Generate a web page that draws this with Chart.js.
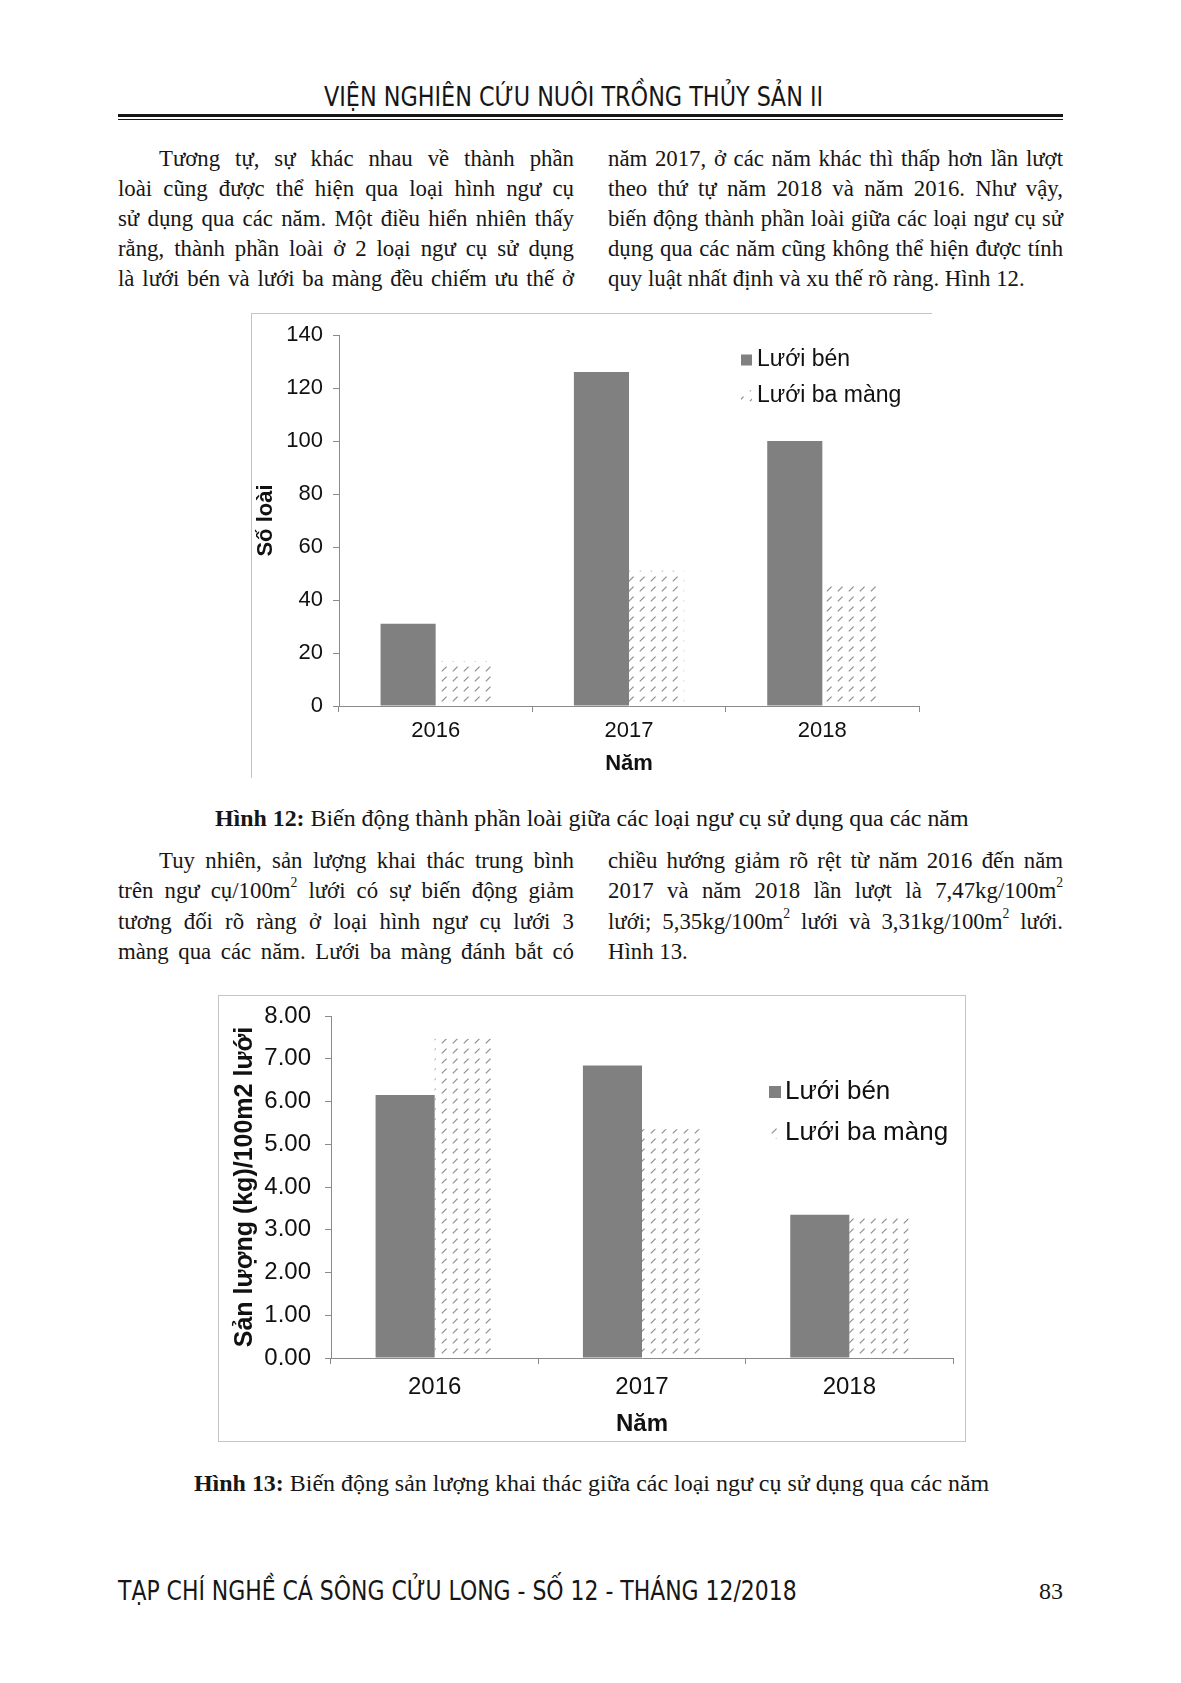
<!DOCTYPE html>
<html><head><meta charset="utf-8">
<script src="https://cdn.jsdelivr.net/npm/chart.js@4.4.0/dist/chart.umd.min.js"></script>
<style>
html,body{margin:0;padding:0;background:#fff;}
body{width:1181px;height:1683px;position:relative;overflow:hidden;color:#161616;}
.ln{position:absolute;height:30px;line-height:30px;font-family:"Liberation Serif","Times New Roman",serif;font-size:24px;transform-origin:0 50%;}
.j{text-align:justify;text-align-last:justify;}
.nj{white-space:nowrap;text-align:left;}
.meas{position:absolute;visibility:hidden;white-space:nowrap;font-family:"Liberation Serif","Times New Roman",serif;font-size:24px;left:0;top:0;}
sup{font-size:0.6em;line-height:0;vertical-align:0.75em;}
.fit{position:absolute;white-space:nowrap;display:inline-block;transform-origin:0 50%;}
.hdr{font-family:"Liberation Sans Narrow","DejaVu Sans Condensed","Liberation Sans",sans-serif;font-size:27px;line-height:30px;}
.cap{font-family:"Liberation Serif","Times New Roman",serif;font-size:24px;line-height:30px;}
.frame{position:absolute;box-sizing:border-box;}
.frame canvas{position:absolute;left:0;top:0;}
</style>
</head><body>

<div class="fit hdr" data-w="499" style="left:324px;top:82px;">VIỆN NGHIÊN CỨU NUÔI TRỒNG THỦY SẢN II</div>
<div style="position:absolute;left:118px;top:114px;width:945px;height:3px;background:#161616;"></div>
<div style="position:absolute;left:118px;top:119px;width:945px;height:1px;background:#161616;"></div>

<div id="text"></div>

<div class="frame" style="left:251px;top:313px;width:681px;height:465px;border-top:1px solid #c4c4c4;border-left:1px solid #c4c4c4;">
  <canvas id="c1" width="680" height="464"></canvas>
</div>

<div class="fit cap" data-w="754" style="left:215px;top:803px;"><b>Hình 12:</b> Biến động thành phần loài giữa các loại ngư cụ sử dụng qua các năm</div>

<div class="frame" style="left:218px;top:995px;width:748px;height:447px;border:1px solid #c4c4c4;">
  <canvas id="c2" width="746" height="445"></canvas>
</div>

<div class="fit cap" data-w="795" style="left:194px;top:1468px;"><b>Hình 13:</b> Biến động sản lượng khai thác giữa các loại ngư cụ sử dụng qua các năm</div>

<div class="fit hdr" data-w="679" style="left:118px;top:1576px;">TẠP CHÍ NGHỀ CÁ SÔNG CỬU LONG - SỐ 12 - THÁNG 12/2018</div>
<div class="fit cap" data-w="24" style="left:1039px;top:1576px;">83</div>

<script>
// ---------- chart data ----------
const years = ['2016', '2017', '2018'];
const seriesNames = ['Lưới bén', 'Lưới ba màng'];
const speciesBen = [31, 126, 100];
const speciesBaMang = [17, 51, 46];
const speciesAxis = [0, 140, 20];      // min, max, step
const yieldBen = [6.15, 6.84, 3.35];
const yieldBaMang = [7.47, 5.35, 3.31];
const yieldAxis = [0, 8, 1];           // min, max, step
const titleSpecies = 'Số loài';
const titleYield = 'Sản lượng (kg)/100m2 lưới';
const titleYear = 'Năm';

// ---------- body text ----------
const paragraphs = [
  {x:118, w:456, top:143, step:30.05, indent:41, justifyLast:true, lines:[
    'Tương tự, sự khác nhau về thành phần',
    'loài cũng được thể hiện qua loại hình ngư cụ',
    'sử dụng qua các năm. Một điều hiển nhiên thấy',
    'rằng, thành phần loài ở 2 loại ngư cụ sử dụng',
    'là lưới bén và lưới ba màng đều chiếm ưu thế ở']},
  {x:608, w:455, top:143, step:30.05, indent:0, justifyLast:false, lines:[
    'năm 2017, ở các năm khác thì thấp hơn lần lượt',
    'theo thứ tự năm 2018 và năm 2016. Như vậy,',
    'biến động thành phần loài giữa các loại ngư cụ sử',
    'dụng qua các năm cũng không thể hiện được tính',
    'quy luật nhất định và xu thế rõ ràng. Hình 12.']},
  {x:118, w:456, top:845, step:30.3, indent:41, justifyLast:true, lines:[
    'Tuy nhiên, sản lượng khai thác trung bình',
    'trên ngư cụ/100m<sup>2</sup> lưới có sự biến động giảm',
    'tương đối rõ ràng ở loại hình ngư cụ lưới 3',
    'màng qua các năm. Lưới ba màng đánh bắt có']},
  {x:608, w:455, top:845, step:30.3, indent:0, justifyLast:false, lines:[
    'chiều hướng giảm rõ rệt từ năm 2016 đến năm',
    '2017 và năm 2018 lần lượt là 7,47kg/100m<sup>2</sup>',
    'lưới; 5,35kg/100m<sup>2</sup> lưới và 3,31kg/100m<sup>2</sup> lưới.',
    'Hình 13.']}
];
const SX = 0.95;
const host = document.getElementById('text');
const meas = document.createElement('span');
meas.className = 'meas';
document.body.appendChild(meas);
paragraphs.forEach(p => {
  p.lines.forEach((t, i) => {
    const d = document.createElement('div');
    const last = i === p.lines.length - 1;
    const ind = i === 0 ? p.indent : 0;
    const W = p.w - ind;
    meas.innerHTML = t;
    const nat = meas.getBoundingClientRect().width;
    let sx = SX;
    if (nat * sx > W - 8) sx = (W - 8) / nat;
    d.className = 'ln ' + (last && !p.justifyLast ? 'nj' : 'j');
    d.style.left = (p.x + ind) + 'px';
    d.style.top = (p.top + i * p.step) + 'px';
    d.style.width = (W / sx) + 'px';
    d.style.transform = 'scaleX(' + sx + ')';
    d.innerHTML = t;
    host.appendChild(d);
  });
});
meas.remove();
document.querySelectorAll('.fit').forEach(el => {
  const w = parseFloat(el.dataset.w);
  el.style.transform = 'scaleX(' + (w / el.offsetWidth) + ')';
});

// ---------- charts ----------
const BAR = '#808080';
function makePattern() {
  const c = document.createElement('canvas');
  c.width = 11; c.height = 10;
  const g = c.getContext('2d');
  g.fillStyle = '#fff'; g.fillRect(0, 0, 11, 10);
  g.strokeStyle = '#8f8f8f'; g.lineWidth = 1.25;
  g.beginPath(); g.moveTo(2.8, 7.4); g.lineTo(7.6, 2.6); g.stroke();
  return g.createPattern(c, 'repeat');
}
const PAT = makePattern();

const boxLegend = {
  id: 'boxLegend',
  afterDraw(chart, args, o) {
    const ctx = chart.ctx;
    ctx.save();
    chart.data.datasets.forEach((ds, i) => {
      const y = o.y + i * o.gap;
      ctx.fillStyle = ds.backgroundColor;
      ctx.fillRect(o.x, y - o.box / 2, o.box, o.box);
      ctx.fillStyle = '#111';
      ctx.font = o.font;
      ctx.textBaseline = 'middle';
      ctx.textAlign = 'left';
      ctx.fillText(ds.label, o.x + o.box + o.space, y);
    });
    ctx.restore();
  }
};

function build(id, a, b, axis, yTitle, cfg) {
  const font = 'Liberation Sans, Arial, sans-serif';
  return new Chart(document.getElementById(id), {
    type: 'bar',
    data: {
      labels: years,
      datasets: [
        {label: seriesNames[0], data: a, backgroundColor: BAR, borderWidth: 0},
        {label: seriesNames[1], data: b, backgroundColor: PAT, borderWidth: 0}
      ]
    },
    options: {
      responsive: false, animation: false,
      layout: {padding: {top: cfg.padTop, right: cfg.padRight, left: 0, bottom: 0}},
      datasets: {bar: {categoryPercentage: 0.57, barPercentage: 1.0}},
      plugins: {
        legend: {display: false}, tooltip: {enabled: false},
        boxLegend: cfg.legend
      },
      scales: {
        x: {
          offset: true,
          grid: {offset: true, drawOnChartArea: false, drawTicks: true, tickLength: 6, color: '#8a8a8a'},
          border: {color: '#8a8a8a', width: 1},
          ticks: {color: '#111', font: {family: font, size: cfg.tick, lineHeight: 1.2}, padding: cfg.xPad},
          title: {display: true, text: titleYear, color: '#111',
                  font: {family: font, size: cfg.xTitle, weight: 'bold', lineHeight: 1.2},
                  padding: {top: 0, bottom: cfg.xTitlePad}},
          afterFit: s => { s.height = cfg.xH; s.paddingLeft = 0; s.paddingRight = 0; }
        },
        y: {
          min: axis[0], max: axis[1],
          grid: {drawOnChartArea: false, drawTicks: true, tickLength: 6, color: '#8a8a8a'},
          border: {color: '#8a8a8a', width: 1},
          ticks: {stepSize: axis[2], color: '#111', padding: cfg.yPad,
                  font: {family: font, size: cfg.tick, lineHeight: 1.2},
                  callback: v => cfg.dec ? Number(v).toFixed(cfg.dec) : v},
          title: {display: true, text: yTitle, color: '#111',
                  font: {family: font, size: cfg.yTitle, weight: 'bold', lineHeight: 1.2},
                  padding: {top: cfg.yTitlePad, bottom: 0}},
          afterFit: s => { s.width = cfg.yW; s.paddingTop = 0; s.paddingBottom = 0; }
        }
      }
    },
    plugins: [boxLegend]
  });
}

build('c1', speciesBen, speciesBaMang, speciesAxis, titleSpecies, {
  padTop: 21, padRight: 13, tick: 22, xPad: 6, xTitle: 22, xTitlePad: 1,
  yPad: 10, yTitle: 22, yTitlePad: 1, xH: 72, yW: 87, dec: 0,
  legend: {x: 489, y: 46, gap: 36, box: 11, space: 5, font: '23px Liberation Sans, Arial, sans-serif'}
});
build('c2', yieldBen, yieldBaMang, yieldAxis, titleYield, {
  padTop: 20, padRight: 12, tick: 24, xPad: 9, xTitle: 24, xTitlePad: 2,
  yPad: 14, yTitle: 25, yTitlePad: 11, xH: 83, yW: 112, dec: 2,
  legend: {x: 550, y: 96, gap: 41, box: 12, space: 4, font: '26px Liberation Sans, Arial, sans-serif'}
});
</script>
</body></html>
